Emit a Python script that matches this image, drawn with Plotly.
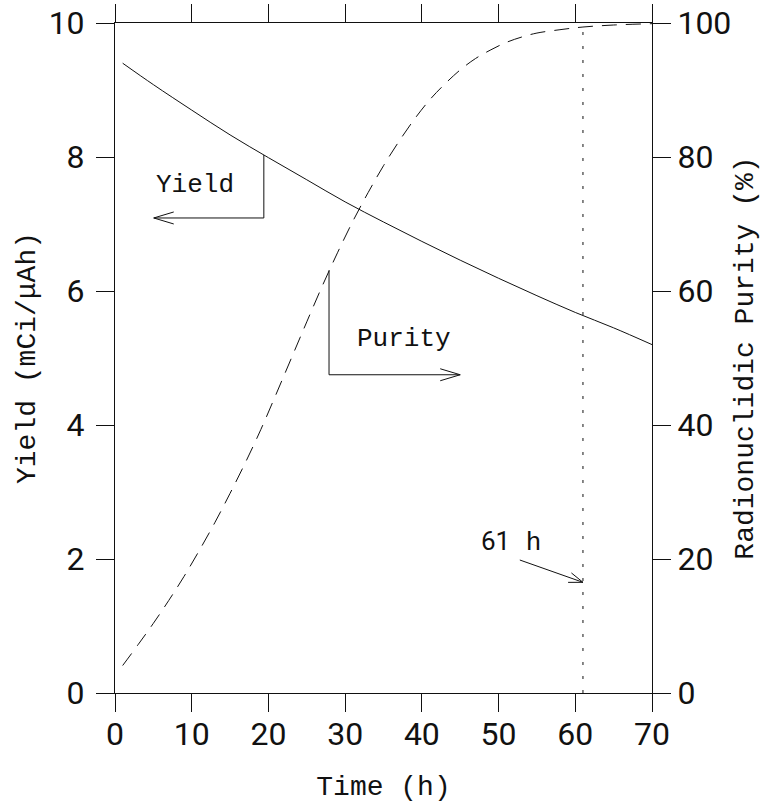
import math
import plotly.graph_objects as go

# ---------------- data ----------------
yield_time = [1, 5, 10, 15, 20, 25, 30, 35, 40, 45, 50, 55, 60, 65, 70]
yield_values = [9.40, 9.08, 8.70, 8.33, 7.99, 7.66, 7.33, 7.03, 6.74,
                6.46, 6.19, 5.93, 5.68, 5.45, 5.20]

purity_time = [1, 3, 5, 7, 9, 11, 13, 15, 17, 19, 21, 23, 25, 27, 29, 31,
               33, 35, 37, 39, 41, 43, 45, 47, 49, 51, 53, 55, 58, 61, 65, 70]
purity_values = [4.1, 7.2, 10.4, 13.8, 17.4, 21.3, 25.4, 29.8, 34.4, 39.3,
                 44.6, 50.0, 55.4, 60.7, 65.7, 70.4, 74.7, 78.7, 82.3, 85.6,
                 88.5, 90.9, 93.0, 94.7, 96.0, 97.1, 97.9, 98.5, 99.0, 99.4,
                 99.7, 99.9]

cutoff_time = [61, 61]
cutoff_purity = [0, 99.4]

x_ticks = [0, 10, 20, 30, 40, 50, 60, 70]
y_ticks = [0, 2, 4, 6, 8, 10]
y2_ticks = [0, 20, 40, 60, 80, 100]

# ---------------- styling ----------------
W, H = 770, 803
ML, MR, MT, MB = 115, 118, 23, 110
X_RANGE = [0, 70]
Y_RANGE = [0, 10]
PX_X = (W - ML - MR) / (X_RANGE[1] - X_RANGE[0])
PX_Y = (H - MT - MB) / (Y_RANGE[1] - Y_RANGE[0])

SANS = "Roboto, Liberation Sans, sans-serif"
SERIF = "Liberation Mono, Courier New, monospace"
INK = "#111111"

fig = go.Figure()

fig.add_trace(go.Scatter(x=yield_time, y=yield_values, mode="lines",
                         line=dict(color=INK, width=1), line_shape="spline",
                         showlegend=False, hoverinfo="skip"))
fig.add_trace(go.Scatter(x=purity_time, y=purity_values, mode="lines",
                         line=dict(color=INK, width=1, dash="15px,9px"),
                         line_shape="spline",
                         yaxis="y2", showlegend=False, hoverinfo="skip"))
fig.add_trace(go.Scatter(x=cutoff_time, y=cutoff_purity, mode="lines",
                         line=dict(color=INK, width=1, dash="3px,11px"),
                         yaxis="y2", showlegend=False, hoverinfo="skip"))

shapes = []


def seg(x0, y0, x1, y1):
    shapes.append(dict(type="line", xref="x", yref="y", x0=x0, y0=y0,
                       x1=x1, y1=y1, line=dict(color=INK, width=1)))


def arrowhead(tx, ty, fx, fy, length=20, half=6):
    dx = (tx - fx) * PX_X
    dy = (ty - fy) * PX_Y
    n = math.hypot(dx, dy)
    ux, uy = dx / n, dy / n
    px, py = -uy, ux
    for s in (1, -1):
        bx = -ux * length + s * px * half
        by = -uy * length + s * py * half
        seg(tx, ty, tx + bx / PX_X, ty + by / PX_Y)


# Yield pointer
seg(19.4, 8.03, 19.4, 7.09)
seg(19.4, 7.09, 5.05, 7.09)
arrowhead(5.05, 7.09, 19.4, 7.09)
# Purity pointer
seg(27.9, 6.31, 27.9, 4.75)
seg(27.9, 4.75, 45.0, 4.75)
arrowhead(45.0, 4.75, 27.9, 4.75)
# 61 h pointer
seg(52.77, 1.985, 61.0, 1.652)
arrowhead(61.0, 1.652, 52.77, 1.985, length=14, half=5)

annotations = [
    dict(x=10.43, y=7.58, xref="x", yref="y", text="Yield", showarrow=False,
         font=dict(family=SERIF, size=26, color=INK)),
    dict(x=37.7, y=5.28, xref="x", yref="y", text="Purity", showarrow=False,
         font=dict(family=SERIF, size=26, color=INK)),
    dict(x=51.6, y=2.25, xref="x", yref="y",
         text='<span style="font-family:Roboto, Liberation Sans, sans-serif">61</span> h',
         showarrow=False, font=dict(family=SERIF, size=26, color=INK)),
]

axis_common = dict(showline=True, linecolor=INK, linewidth=1, ticks="outside",
                   ticklen=18, tickwidth=1, tickcolor=INK, showgrid=False,
                   zeroline=False, tickfont=dict(family=SANS, size=32, color=INK))

fig.update_layout(
    width=W, height=H,
    margin=dict(l=ML, r=MR, t=MT, b=MB, autoexpand=False),
    paper_bgcolor="white", plot_bgcolor="white",
    shapes=shapes, annotations=annotations,
    xaxis=dict(range=X_RANGE, tickvals=x_ticks, mirror="ticks",
               ticklabelstandoff=-5,
               title=dict(text="Time (h)", standoff=26,
                          font=dict(family=SERIF, size=28, color=INK)),
               **axis_common),
    yaxis=dict(range=Y_RANGE, tickvals=y_ticks, ticklabelstandoff=5,
               title=dict(text="Yield (mCi/\u03bcAh)", standoff=4,
                          font=dict(family=SERIF, size=28, color=INK)),
               **axis_common),
    yaxis2=dict(range=[0, 100], tickvals=y2_ticks, overlaying="y", side="right",
                ticklabelstandoff=0,
                title=dict(text="Radionuclidic Purity (%)", standoff=3,
                           font=dict(family=SERIF, size=28, color=INK)),
                **axis_common),
)

fig.write_html("out.html")
